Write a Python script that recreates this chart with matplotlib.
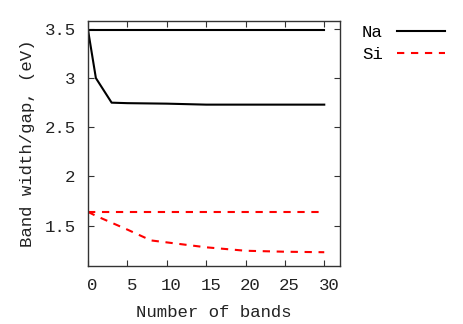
import matplotlib
matplotlib.use("Agg")
import matplotlib.pyplot as plt
import matplotlib.transforms as mtransforms

# data
na_const_x = [0, 30]
na_const_y = [3.49, 3.49]
na_x = [0, 1, 3, 5, 10, 15, 20, 25, 30]
na_y = [3.49, 3.00, 2.75, 2.745, 2.74, 2.73, 2.73, 2.73, 2.73]

si_const_x = [0, 30]
si_const_y = [1.64, 1.64]
si_x = [0, 1, 3, 5, 8, 10, 15, 20, 25, 30]
si_y = [1.64, 1.60, 1.53, 1.46, 1.35, 1.33, 1.28, 1.245, 1.235, 1.23]

xticks = [0, 5, 10, 15, 20, 25, 30]
yticks = [1.5, 2, 2.5, 3, 3.5]
ytick_labels = ["1.5", "2", "2.5", "3", "3.5"]

plt.rcParams["font.family"] = ["Liberation Mono", "DejaVu Sans Mono"]
plt.rcParams["font.size"] = 12.5

fig = plt.figure(figsize=(4.63, 3.24), dpi=100)
ax = fig.add_axes([88 / 463, 58 / 324, 252 / 463, 245 / 324])

dash = (0, (3.5, 3.2))
ax.plot(na_const_x, na_const_y, color="black", lw=1.5, label="Na")
ax.plot(na_x, na_y, color="black", lw=1.5)
ax.plot(si_const_x, si_const_y, color="red", lw=1.5, ls=dash, label="Si")
ax.plot(si_x, si_y, color="red", lw=1.5, ls=dash)

ax.set_xlim(0, 32)
ax.set_ylim(1.09, 3.58)
ax.set_xticks(xticks)
ax.set_yticks(yticks)
ax.set_yticklabels(ytick_labels)
ax.tick_params(direction="in", top=True, right=True, length=4, width=0.8,
               color="#333333", labelcolor="#222222")
ax.tick_params(axis="y", pad=9)
ax.tick_params(axis="x", pad=9)
for s in ax.spines.values():
    s.set_color("#333333")
    s.set_linewidth(1.0)

# gnuplot puts the x tick labels a little right of the ticks
shift = mtransforms.ScaledTranslation(4.5 / 100, 0, fig.dpi_scale_trans)
for lab in ax.get_xticklabels():
    lab.set_transform(lab.get_transform() + shift)

ax.set_xlabel("Number of bands", color="#222222", labelpad=8)
ax.set_ylabel("Band width/gap, (eV)", color="#222222", labelpad=7)

ax.legend(loc="upper left", bbox_to_anchor=(362 / 463, 1 - 25 / 324),
          bbox_transform=fig.transFigure, frameon=False, markerfirst=False,
          handlelength=2.8, handletextpad=0.8, labelspacing=0.4,
          borderpad=0, borderaxespad=0)

fig.savefig("out.png", dpi=100)
